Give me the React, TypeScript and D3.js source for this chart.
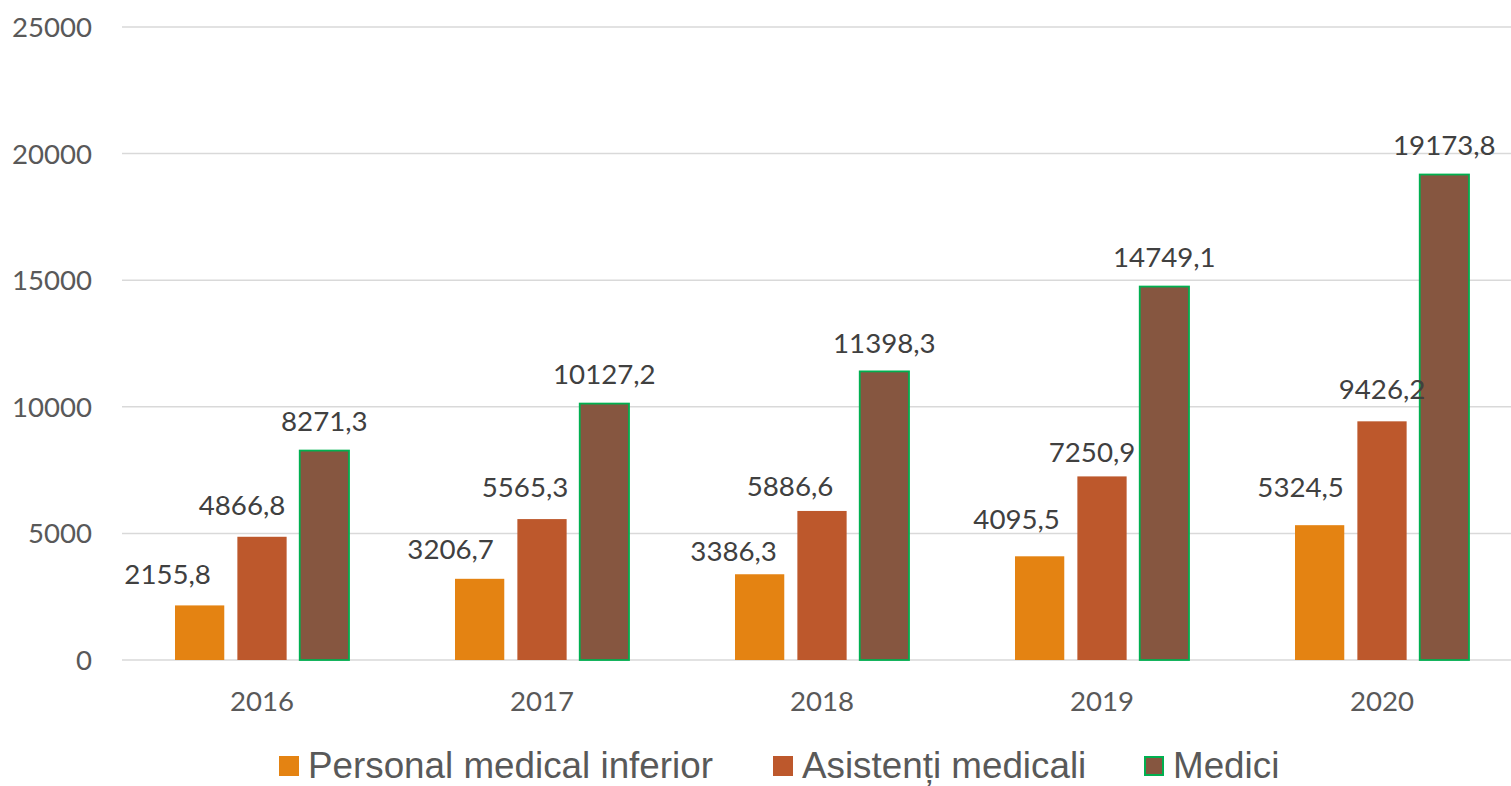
import React from "react";
import * as d3 from "d3";

const years = ["2016", "2017", "2018", "2019", "2020"];
const seriesNames = ["Personal medical inferior", "Asistenți medicali", "Medici"];
const personalInferior = [2155.8, 3206.7, 3386.3, 4095.5, 5324.5];
const asistenti = [4866.8, 5565.3, 5886.6, 7250.9, 9426.2];
const medici = [8271.3, 10127.2, 11398.3, 14749.1, 19173.8];
const yTicks = [0, 5000, 10000, 15000, 20000, 25000];

// manual label nudges (dx, dy of label centre relative to bar centre / bar top), per series per year
const labelNudges = [
  [[-32, -31], [-29, -30], [-26, -23], [-23, -37], [-19, -38]],
  [[-20, -32], [-17, -32], [-32, -25], [-10, -24], [0, -32]],
  [[0, -30], [0, -30], [0, -28], [0, -30], [0, -30]],
];

const seriesValues = [personalInferior, asistenti, medici];
const colors = ["#E48312", "#BD582C", "#865640"];
const strokes = ["none", "none", "#00B050"];

const W = 1511;
const H = 786;

export default function App() {
  const x0 = d3.scaleBand<string>().domain(years).range([122, 1522]).paddingInner(0).paddingOuter(0);
  const groupW = 174;
  const x1 = d3
    .scaleBand<string>()
    .domain(seriesNames)
    .range([0, groupW])
    .paddingInner(0.21)
    .paddingOuter(0);
  const y = d3.scaleLinear().domain([0, 25000]).range([660, 27]);

  const loc = d3.formatLocale({ decimal: ",", thousands: "", grouping: [3], currency: ["", ""] });
  const fmt = loc.format(".1f");
  const tickFmt = loc.format("d");

  const numFont = "Lato, 'Open Sans', sans-serif";
  const legendFont = "'Liberation Sans', Arial, sans-serif";

  const legendItems = [
    { name: seriesNames[0], sx: 279, tx: 308 },
    { name: seriesNames[1], sx: 773, tx: 802 },
    { name: seriesNames[2], sx: 1144, tx: 1173 },
  ];

  return (
    <svg
      width={W}
      height={H}
      style={{ position: "absolute", left: 0, top: 0, background: "#fff" }}
    >
      <rect x={0} y={0} width={W} height={H} fill="#fff" />
      {yTicks.map((t) => (
        <g key={t}>
          <line x1={122} x2={1522} y1={y(t)} y2={y(t)} stroke="#D9D9D9" strokeWidth={1.5} />
          <text
            x={92}
            y={y(t) + 10}
            textAnchor="end"
            fontFamily={numFont}
            fontSize={27.6}
            fill="#595959"
          >
            {tickFmt(t)}
          </text>
        </g>
      ))}
      {years.map((yr, i) => {
        const gx = (x0(yr) as number) + (x0.bandwidth() - groupW) / 2;
        return (
          <g key={yr}>
            {seriesNames.map((s, si) => {
              const v = seriesValues[si][i];
              const bx = gx + (x1(s) as number);
              const bw = x1.bandwidth();
              const top = y(v);
              const sw = strokes[si] === "none" ? 0 : 1.8;
              return (
                <rect
                  key={s}
                  x={bx}
                  y={top}
                  width={bw}
                  height={y(0) - top}
                  fill={colors[si]}
                  stroke={strokes[si]}
                  strokeWidth={sw}
                />
              );
            })}
            {seriesNames.map((s, si) => {
              const v = seriesValues[si][i];
              const bx = gx + (x1(s) as number) + x1.bandwidth() / 2;
              const [dx, dy] = labelNudges[si][i];
              return (
                <text
                  key={s + "l"}
                  x={bx + dx}
                  y={y(v) + dy + 10}
                  textAnchor="middle"
                  fontFamily={numFont}
                  fontSize={27.7}
                  fill="#404040"
                >
                  {fmt(v)}
                </text>
              );
            })}
            <text
              x={(x0(yr) as number) + x0.bandwidth() / 2}
              y={711}
              textAnchor="middle"
              fontFamily={numFont}
              fontSize={27.6}
              fill="#595959"
            >
              {yr}
            </text>
          </g>
        );
      })}
      {legendItems.map((it, i) => (
        <g key={it.name}>
          <rect
            x={it.sx + (i === 2 ? 1 : 0)}
            y={756 + (i === 2 ? 1 : 0)}
            width={20 - (i === 2 ? 2 : 0)}
            height={20 - (i === 2 ? 2 : 0)}
            fill={colors[i]}
            stroke={strokes[i]}
            strokeWidth={i === 2 ? 2 : 0}
          />
          <text x={it.tx} y={778} fontFamily={legendFont} fontSize={36.8} fill="#595959">
            {it.name}
          </text>
        </g>
      ))}
    </svg>
  );
}
